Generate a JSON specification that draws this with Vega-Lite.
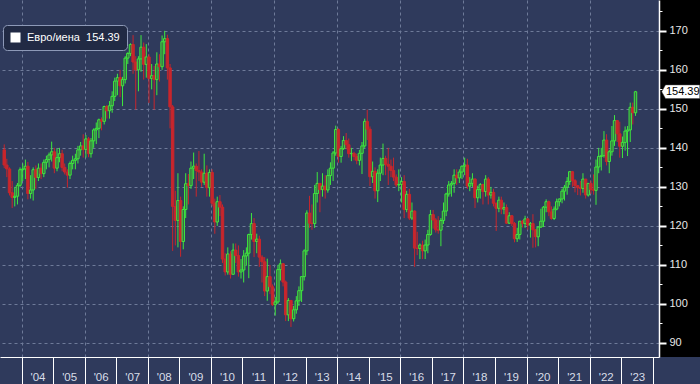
{
"$schema": "https://vega.github.io/schema/vega-lite/v6.json",
"padding": 0,
"background": "#2f3a5c",
"spacing": 0,
"bounds": "flush",
"config": {"view": {"stroke": null}, "font": "Liberation Sans"},
"data": {"values": [
{"d":"2003-06-15","o":139.5,"h":140.9,"l":134.8,"c":135.6},
{"d":"2003-07-15","o":135.6,"h":137.2,"l":132.5,"c":134.6},
{"d":"2003-08-15","o":134.6,"h":135.0,"l":127.8,"c":128.5},
{"d":"2003-09-15","o":128.5,"h":131.5,"l":124.6,"c":127.3},
{"d":"2003-10-15","o":127.3,"h":130.0,"l":125.0,"c":127.6},
{"d":"2003-11-15","o":127.6,"h":131.0,"l":125.5,"c":130.4},
{"d":"2003-12-15","o":130.4,"h":135.0,"l":130.0,"c":134.4},
{"d":"2004-01-15","o":134.4,"h":136.0,"l":131.5,"c":134.6},
{"d":"2004-02-15","o":134.6,"h":137.0,"l":132.0,"c":135.3},
{"d":"2004-03-15","o":135.3,"h":136.4,"l":126.8,"c":128.3},
{"d":"2004-04-15","o":128.3,"h":133.0,"l":127.0,"c":129.2},
{"d":"2004-05-15","o":129.2,"h":135.0,"l":126.5,"c":134.4},
{"d":"2004-06-15","o":134.4,"h":135.5,"l":129.5,"c":132.4},
{"d":"2004-07-15","o":132.4,"h":136.0,"l":131.5,"c":134.8},
{"d":"2004-08-15","o":134.8,"h":136.0,"l":132.0,"c":133.4},
{"d":"2004-09-15","o":133.4,"h":137.0,"l":132.5,"c":136.3},
{"d":"2004-10-15","o":136.3,"h":138.0,"l":134.5,"c":137.0},
{"d":"2004-11-15","o":137.0,"h":138.8,"l":135.0,"c":138.2},
{"d":"2004-12-15","o":138.2,"h":141.6,"l":136.5,"c":139.0},
{"d":"2005-01-15","o":139.0,"h":140.0,"l":133.5,"c":134.8},
{"d":"2005-02-15","o":134.8,"h":139.8,"l":134.0,"c":137.5},
{"d":"2005-03-15","o":137.5,"h":140.0,"l":136.3,"c":138.5},
{"d":"2005-04-15","o":138.5,"h":139.5,"l":134.0,"c":135.0},
{"d":"2005-05-15","o":135.0,"h":136.0,"l":133.2,"c":133.8},
{"d":"2005-06-15","o":133.8,"h":134.5,"l":129.8,"c":133.0},
{"d":"2005-07-15","o":133.0,"h":136.5,"l":132.0,"c":136.0},
{"d":"2005-08-15","o":136.0,"h":138.0,"l":134.5,"c":136.8},
{"d":"2005-09-15","o":136.8,"h":138.5,"l":134.5,"c":137.2},
{"d":"2005-10-15","o":137.2,"h":140.5,"l":136.0,"c":139.5},
{"d":"2005-11-15","o":139.5,"h":141.5,"l":138.0,"c":140.5},
{"d":"2005-12-15","o":140.5,"h":143.5,"l":137.5,"c":139.6},
{"d":"2006-01-15","o":139.6,"h":143.3,"l":137.5,"c":142.3},
{"d":"2006-02-15","o":142.3,"h":142.8,"l":137.6,"c":138.5},
{"d":"2006-03-15","o":138.5,"h":142.5,"l":137.5,"c":141.8},
{"d":"2006-04-15","o":141.8,"h":145.0,"l":140.0,"c":144.6},
{"d":"2006-05-15","o":144.6,"h":146.5,"l":141.0,"c":145.0},
{"d":"2006-06-15","o":145.0,"h":147.5,"l":142.5,"c":147.2},
{"d":"2006-07-15","o":147.2,"h":147.8,"l":144.5,"c":146.8},
{"d":"2006-08-15","o":146.8,"h":150.8,"l":146.0,"c":150.6},
{"d":"2006-09-15","o":150.6,"h":151.0,"l":147.5,"c":149.5},
{"d":"2006-10-15","o":149.5,"h":152.0,"l":147.5,"c":150.8},
{"d":"2006-11-15","o":150.8,"h":154.5,"l":149.0,"c":153.2},
{"d":"2006-12-15","o":153.2,"h":158.0,"l":152.0,"c":157.1},
{"d":"2007-01-15","o":157.1,"h":159.0,"l":153.5,"c":158.0},
{"d":"2007-02-15","o":158.0,"h":160.0,"l":153.0,"c":155.9},
{"d":"2007-03-15","o":155.9,"h":158.2,"l":150.7,"c":157.5},
{"d":"2007-04-15","o":157.5,"h":163.5,"l":156.5,"c":163.0},
{"d":"2007-05-15","o":163.0,"h":164.5,"l":161.5,"c":164.2},
{"d":"2007-06-15","o":164.2,"h":166.8,"l":163.5,"c":166.5},
{"d":"2007-07-15","o":166.5,"h":168.9,"l":159.0,"c":162.0},
{"d":"2007-08-15","o":162.0,"h":163.5,"l":149.8,"c":160.0},
{"d":"2007-09-15","o":160.0,"h":163.5,"l":154.5,"c":162.8},
{"d":"2007-10-15","o":162.8,"h":168.9,"l":159.5,"c":165.8},
{"d":"2007-11-15","o":165.8,"h":167.0,"l":157.5,"c":161.4},
{"d":"2007-12-15","o":161.4,"h":166.6,"l":158.0,"c":163.3},
{"d":"2008-01-15","o":163.3,"h":164.0,"l":151.5,"c":157.8},
{"d":"2008-02-15","o":157.8,"h":161.5,"l":155.0,"c":158.5},
{"d":"2008-03-15","o":158.5,"h":161.0,"l":149.8,"c":157.5},
{"d":"2008-04-15","o":157.5,"h":164.5,"l":153.5,"c":161.5},
{"d":"2008-05-15","o":161.5,"h":164.0,"l":157.0,"c":160.8},
{"d":"2008-06-15","o":160.8,"h":168.8,"l":160.0,"c":167.2},
{"d":"2008-07-15","o":167.2,"h":170.0,"l":164.0,"c":168.0},
{"d":"2008-08-15","o":168.0,"h":169.0,"l":157.5,"c":160.5},
{"d":"2008-09-15","o":160.5,"h":161.5,"l":145.0,"c":150.5},
{"d":"2008-10-15","o":150.5,"h":151.0,"l":113.6,"c":125.0},
{"d":"2008-11-15","o":125.0,"h":129.0,"l":115.0,"c":121.4},
{"d":"2008-12-15","o":121.4,"h":133.5,"l":114.5,"c":126.5},
{"d":"2009-01-15","o":126.5,"h":127.5,"l":112.1,"c":116.0},
{"d":"2009-02-15","o":116.0,"h":125.0,"l":114.0,"c":124.2},
{"d":"2009-03-15","o":124.2,"h":133.5,"l":122.0,"c":130.8},
{"d":"2009-04-15","o":130.8,"h":133.3,"l":125.5,"c":130.3},
{"d":"2009-05-15","o":130.3,"h":136.5,"l":129.5,"c":134.8},
{"d":"2009-06-15","o":134.8,"h":138.8,"l":132.0,"c":135.3},
{"d":"2009-07-15","o":135.3,"h":136.0,"l":127.5,"c":134.2},
{"d":"2009-08-15","o":134.2,"h":139.2,"l":131.5,"c":133.8},
{"d":"2009-09-15","o":133.8,"h":134.5,"l":130.0,"c":131.2},
{"d":"2009-10-15","o":131.2,"h":138.5,"l":130.5,"c":133.5},
{"d":"2009-11-15","o":133.5,"h":135.5,"l":127.5,"c":129.8},
{"d":"2009-12-15","o":129.8,"h":134.5,"l":127.5,"c":133.7},
{"d":"2010-01-15","o":133.7,"h":134.5,"l":125.0,"c":125.8},
{"d":"2010-02-15","o":125.8,"h":127.0,"l":118.0,"c":121.0},
{"d":"2010-03-15","o":121.0,"h":127.5,"l":120.0,"c":126.2},
{"d":"2010-04-15","o":126.2,"h":127.9,"l":122.5,"c":124.8},
{"d":"2010-05-15","o":124.8,"h":125.5,"l":110.5,"c":111.5},
{"d":"2010-06-15","o":111.5,"h":113.0,"l":107.3,"c":108.2},
{"d":"2010-07-15","o":108.2,"h":114.5,"l":107.5,"c":112.8},
{"d":"2010-08-15","o":112.8,"h":113.5,"l":106.5,"c":107.6},
{"d":"2010-09-15","o":107.6,"h":115.5,"l":107.5,"c":113.8},
{"d":"2010-10-15","o":113.8,"h":115.5,"l":110.5,"c":112.4},
{"d":"2010-11-15","o":112.4,"h":115.0,"l":107.0,"c":108.2},
{"d":"2010-12-15","o":108.2,"h":111.5,"l":106.5,"c":108.7},
{"d":"2011-01-15","o":108.7,"h":113.8,"l":105.5,"c":112.3},
{"d":"2011-02-15","o":112.3,"h":114.5,"l":109.8,"c":113.0},
{"d":"2011-03-15","o":113.0,"h":118.0,"l":106.6,"c":117.8},
{"d":"2011-04-15","o":117.8,"h":123.3,"l":116.5,"c":120.6},
{"d":"2011-05-15","o":120.6,"h":122.0,"l":112.0,"c":116.0},
{"d":"2011-06-15","o":116.0,"h":118.0,"l":113.0,"c":116.6},
{"d":"2011-07-15","o":116.6,"h":117.5,"l":109.5,"c":112.0},
{"d":"2011-08-15","o":112.0,"h":112.5,"l":105.5,"c":110.8},
{"d":"2011-09-15","o":110.8,"h":112.0,"l":102.0,"c":103.3},
{"d":"2011-10-15","o":103.3,"h":111.6,"l":100.8,"c":107.0},
{"d":"2011-11-15","o":107.0,"h":110.0,"l":102.5,"c":104.4},
{"d":"2011-12-15","o":104.4,"h":105.0,"l":99.5,"c":99.8},
{"d":"2012-01-15","o":99.8,"h":101.8,"l":97.0,"c":100.5},
{"d":"2012-02-15","o":100.5,"h":110.0,"l":100.0,"c":108.8},
{"d":"2012-03-15","o":108.8,"h":111.4,"l":106.0,"c":110.3},
{"d":"2012-04-15","o":110.3,"h":110.5,"l":104.5,"c":105.6},
{"d":"2012-05-15","o":105.6,"h":106.0,"l":95.6,"c":97.2},
{"d":"2012-06-15","o":97.2,"h":101.5,"l":95.6,"c":100.9},
{"d":"2012-07-15","o":100.9,"h":101.0,"l":94.1,"c":96.2},
{"d":"2012-08-15","o":96.2,"h":99.5,"l":95.5,"c":98.5},
{"d":"2012-09-15","o":98.5,"h":102.0,"l":97.5,"c":100.8},
{"d":"2012-10-15","o":100.8,"h":104.5,"l":99.5,"c":103.4},
{"d":"2012-11-15","o":103.4,"h":107.0,"l":100.5,"c":107.0},
{"d":"2012-12-15","o":107.0,"h":114.0,"l":106.0,"c":113.6},
{"d":"2013-01-15","o":113.6,"h":124.0,"l":112.5,"c":123.3},
{"d":"2013-02-15","o":123.3,"h":127.7,"l":119.5,"c":120.7},
{"d":"2013-03-15","o":120.7,"h":125.5,"l":119.0,"c":120.6},
{"d":"2013-04-15","o":120.6,"h":130.5,"l":119.5,"c":128.3},
{"d":"2013-05-15","o":128.3,"h":133.8,"l":126.0,"c":130.9},
{"d":"2013-06-15","o":130.9,"h":131.0,"l":123.5,"c":129.3},
{"d":"2013-07-15","o":129.3,"h":133.5,"l":127.5,"c":130.2},
{"d":"2013-08-15","o":130.2,"h":133.0,"l":127.0,"c":129.2},
{"d":"2013-09-15","o":129.2,"h":134.5,"l":128.5,"c":132.9},
{"d":"2013-10-15","o":132.9,"h":136.3,"l":130.5,"c":134.8},
{"d":"2013-11-15","o":134.8,"h":139.2,"l":131.5,"c":138.7},
{"d":"2013-12-15","o":138.7,"h":145.7,"l":138.0,"c":144.7},
{"d":"2014-01-15","o":144.7,"h":145.0,"l":136.2,"c":137.8},
{"d":"2014-02-15","o":137.8,"h":140.5,"l":136.2,"c":139.8},
{"d":"2014-03-15","o":139.8,"h":143.0,"l":139.5,"c":141.9},
{"d":"2014-04-15","o":141.9,"h":143.8,"l":139.6,"c":140.8},
{"d":"2014-05-15","o":140.8,"h":142.4,"l":137.5,"c":138.5},
{"d":"2014-06-15","o":138.5,"h":140.0,"l":136.6,"c":138.6},
{"d":"2014-07-15","o":138.6,"h":139.0,"l":136.8,"c":137.8},
{"d":"2014-08-15","o":137.8,"h":138.5,"l":135.8,"c":136.8},
{"d":"2014-09-15","o":136.8,"h":139.5,"l":135.5,"c":138.6},
{"d":"2014-10-15","o":138.6,"h":141.5,"l":133.3,"c":140.5},
{"d":"2014-11-15","o":140.5,"h":147.5,"l":140.0,"c":146.8},
{"d":"2014-12-15","o":146.8,"h":149.8,"l":142.0,"c":144.8},
{"d":"2015-01-15","o":144.8,"h":145.5,"l":130.2,"c":132.6},
{"d":"2015-02-15","o":132.6,"h":136.5,"l":131.0,"c":134.0},
{"d":"2015-03-15","o":134.0,"h":135.0,"l":127.0,"c":129.0},
{"d":"2015-04-15","o":129.0,"h":134.5,"l":126.1,"c":133.5},
{"d":"2015-05-15","o":133.5,"h":137.5,"l":131.5,"c":135.6},
{"d":"2015-06-15","o":135.6,"h":141.1,"l":133.0,"c":137.3},
{"d":"2015-07-15","o":137.3,"h":138.0,"l":133.0,"c":135.8},
{"d":"2015-08-15","o":135.8,"h":140.0,"l":130.5,"c":135.3},
{"d":"2015-09-15","o":135.3,"h":137.0,"l":132.5,"c":134.2},
{"d":"2015-10-15","o":134.2,"h":137.5,"l":131.5,"c":132.5},
{"d":"2015-11-15","o":132.5,"h":133.2,"l":130.0,"c":130.5},
{"d":"2015-12-15","o":130.5,"h":134.5,"l":128.9,"c":130.6},
{"d":"2016-01-15","o":130.6,"h":132.5,"l":126.0,"c":131.4},
{"d":"2016-02-15","o":131.4,"h":133.0,"l":122.0,"c":124.2},
{"d":"2016-03-15","o":124.2,"h":129.0,"l":123.5,"c":128.1},
{"d":"2016-04-15","o":128.1,"h":129.5,"l":121.5,"c":122.0},
{"d":"2016-05-15","o":122.0,"h":126.0,"l":121.5,"c":123.8},
{"d":"2016-06-15","o":123.8,"h":124.0,"l":109.5,"c":114.3},
{"d":"2016-07-15","o":114.3,"h":118.5,"l":112.5,"c":114.2},
{"d":"2016-08-15","o":114.2,"h":115.5,"l":111.5,"c":115.1},
{"d":"2016-09-15","o":115.1,"h":116.2,"l":111.5,"c":113.6},
{"d":"2016-10-15","o":113.6,"h":116.5,"l":111.5,"c":115.1},
{"d":"2016-11-15","o":115.1,"h":119.0,"l":113.0,"c":117.8},
{"d":"2016-12-15","o":117.8,"h":124.1,"l":117.5,"c":122.9},
{"d":"2017-01-15","o":122.9,"h":124.1,"l":119.3,"c":121.5},
{"d":"2017-02-15","o":121.5,"h":122.0,"l":118.3,"c":119.0},
{"d":"2017-03-15","o":119.0,"h":122.5,"l":118.0,"c":118.9},
{"d":"2017-04-15","o":118.9,"h":122.0,"l":114.8,"c":121.4},
{"d":"2017-05-15","o":121.4,"h":126.0,"l":120.5,"c":123.8},
{"d":"2017-06-15","o":123.8,"h":128.5,"l":122.5,"c":128.2},
{"d":"2017-07-15","o":128.2,"h":131.5,"l":127.5,"c":130.5},
{"d":"2017-08-15","o":130.5,"h":131.5,"l":127.5,"c":130.9},
{"d":"2017-09-15","o":130.9,"h":134.5,"l":128.5,"c":133.0},
{"d":"2017-10-15","o":133.0,"h":134.5,"l":130.5,"c":132.3},
{"d":"2017-11-15","o":132.3,"h":134.5,"l":131.0,"c":133.8},
{"d":"2017-12-15","o":133.8,"h":135.5,"l":132.0,"c":135.3},
{"d":"2018-01-15","o":135.3,"h":137.5,"l":133.0,"c":135.6},
{"d":"2018-02-15","o":135.6,"h":137.2,"l":129.5,"c":130.2},
{"d":"2018-03-15","o":130.2,"h":132.5,"l":128.9,"c":130.9},
{"d":"2018-04-15","o":130.9,"h":133.5,"l":130.0,"c":132.0},
{"d":"2018-05-15","o":132.0,"h":132.2,"l":124.6,"c":127.2},
{"d":"2018-06-15","o":127.2,"h":130.3,"l":126.0,"c":129.3},
{"d":"2018-07-15","o":129.3,"h":131.0,"l":127.0,"c":130.6},
{"d":"2018-08-15","o":130.6,"h":130.8,"l":125.5,"c":128.8},
{"d":"2018-09-15","o":128.8,"h":133.0,"l":127.5,"c":132.0},
{"d":"2018-10-15","o":132.0,"h":132.5,"l":125.5,"c":127.9},
{"d":"2018-11-15","o":127.9,"h":130.0,"l":127.0,"c":128.6},
{"d":"2018-12-15","o":128.6,"h":129.5,"l":125.0,"c":125.8},
{"d":"2019-01-15","o":125.8,"h":126.0,"l":118.7,"c":124.5},
{"d":"2019-02-15","o":124.5,"h":127.5,"l":123.5,"c":126.6},
{"d":"2019-03-15","o":126.6,"h":127.5,"l":123.0,"c":124.3},
{"d":"2019-04-15","o":124.3,"h":126.0,"l":123.0,"c":124.7},
{"d":"2019-05-15","o":124.7,"h":125.5,"l":120.5,"c":120.7},
{"d":"2019-06-15","o":120.7,"h":123.5,"l":120.5,"c":122.6},
{"d":"2019-07-15","o":122.6,"h":122.8,"l":120.0,"c":120.6},
{"d":"2019-08-15","o":120.6,"h":121.0,"l":115.8,"c":116.7},
{"d":"2019-09-15","o":116.7,"h":119.5,"l":115.9,"c":117.8},
{"d":"2019-10-15","o":117.8,"h":121.3,"l":116.5,"c":121.2},
{"d":"2019-11-15","o":121.2,"h":121.5,"l":119.6,"c":120.6},
{"d":"2019-12-15","o":120.6,"h":122.6,"l":119.5,"c":121.8},
{"d":"2020-01-15","o":121.8,"h":122.0,"l":119.0,"c":120.2},
{"d":"2020-02-15","o":120.2,"h":121.0,"l":117.0,"c":120.6},
{"d":"2020-03-15","o":120.6,"h":123.0,"l":114.4,"c":119.0},
{"d":"2020-04-15","o":119.0,"h":119.2,"l":114.5,"c":117.2},
{"d":"2020-05-15","o":117.2,"h":119.8,"l":114.8,"c":119.7},
{"d":"2020-06-15","o":119.7,"h":124.4,"l":119.5,"c":121.2},
{"d":"2020-07-15","o":121.2,"h":125.1,"l":119.7,"c":124.8},
{"d":"2020-08-15","o":124.8,"h":126.8,"l":123.5,"c":126.2},
{"d":"2020-09-15","o":126.2,"h":126.5,"l":122.5,"c":123.6},
{"d":"2020-10-15","o":123.6,"h":125.0,"l":121.6,"c":121.9},
{"d":"2020-11-15","o":121.9,"h":125.0,"l":121.5,"c":124.3},
{"d":"2020-12-15","o":124.3,"h":127.0,"l":124.0,"c":126.2},
{"d":"2021-01-15","o":126.2,"h":127.0,"l":125.0,"c":126.9},
{"d":"2021-02-15","o":126.9,"h":129.5,"l":125.8,"c":128.9},
{"d":"2021-03-15","o":128.9,"h":130.5,"l":126.5,"c":129.9},
{"d":"2021-04-15","o":129.9,"h":132.5,"l":128.0,"c":131.4},
{"d":"2021-05-15","o":131.4,"h":134.0,"l":130.5,"c":133.9},
{"d":"2021-06-15","o":133.9,"h":134.1,"l":130.0,"c":131.6},
{"d":"2021-07-15","o":131.6,"h":132.0,"l":128.6,"c":130.3},
{"d":"2021-08-15","o":130.3,"h":130.5,"l":127.9,"c":129.8},
{"d":"2021-09-15","o":129.8,"h":131.5,"l":127.8,"c":129.6},
{"d":"2021-10-15","o":129.6,"h":133.5,"l":128.5,"c":132.0},
{"d":"2021-11-15","o":132.0,"h":132.0,"l":127.0,"c":127.9},
{"d":"2021-12-15","o":127.9,"h":131.0,"l":127.5,"c":130.9},
{"d":"2022-01-15","o":130.9,"h":131.6,"l":128.2,"c":129.3},
{"d":"2022-02-15","o":129.3,"h":133.2,"l":128.0,"c":129.1},
{"d":"2022-03-15","o":129.1,"h":137.0,"l":125.4,"c":135.1},
{"d":"2022-04-15","o":135.1,"h":140.0,"l":133.5,"c":137.8},
{"d":"2022-05-15","o":137.8,"h":140.0,"l":134.2,"c":138.0},
{"d":"2022-06-15","o":138.0,"h":144.3,"l":137.5,"c":142.0},
{"d":"2022-07-15","o":142.0,"h":143.5,"l":135.5,"c":136.5},
{"d":"2022-08-15","o":136.5,"h":139.5,"l":133.5,"c":139.0},
{"d":"2022-09-15","o":139.0,"h":145.6,"l":138.0,"c":141.8},
{"d":"2022-10-15","o":141.8,"h":148.4,"l":140.5,"c":147.0},
{"d":"2022-11-15","o":147.0,"h":147.0,"l":141.5,"c":143.6},
{"d":"2022-12-15","o":143.6,"h":146.7,"l":137.5,"c":140.4},
{"d":"2023-01-15","o":140.4,"h":142.9,"l":137.4,"c":141.4},
{"d":"2023-02-15","o":141.4,"h":145.5,"l":139.3,"c":144.3},
{"d":"2023-03-15","o":144.3,"h":145.6,"l":137.9,"c":144.6},
{"d":"2023-04-15","o":144.6,"h":151.6,"l":141.5,"c":150.4},
{"d":"2023-05-15","o":150.4,"h":151.6,"l":146.0,"c":149.0},
{"d":"2023-06-15","o":149.0,"h":154.6,"l":148.2,"c":154.39}
]},
"hconcat": [
{
"width": 659,
"height": 357,
"view": {"fill": "#2f3a5c", "stroke": null},
"layer": [
{
"mark": {"type": "rule", "strokeWidth": 1, "clip": true},
"encoding": {
"x": {"field": "d", "type": "temporal",
"scale": {"domain": ["2003-06-24", "2024-01-15"]},
"axis": {"orient": "bottom", "title": null, "grid": false,
"values": [{"year":2004,"month":1,"date":1},{"year":2005,"month":1,"date":1},{"year":2006,"month":1,"date":1},{"year":2007,"month":1,"date":1},{"year":2008,"month":1,"date":1},{"year":2009,"month":1,"date":1},{"year":2010,"month":1,"date":1},{"year":2011,"month":1,"date":1},{"year":2012,"month":1,"date":1},{"year":2013,"month":1,"date":1},{"year":2014,"month":1,"date":1},{"year":2015,"month":1,"date":1},{"year":2016,"month":1,"date":1},{"year":2017,"month":1,"date":1},{"year":2018,"month":1,"date":1},{"year":2019,"month":1,"date":1},{"year":2020,"month":1,"date":1},{"year":2021,"month":1,"date":1},{"year":2022,"month":1,"date":1},{"year":2023,"month":1,"date":1},{"year":2024,"month":1,"date":1}],
"format": "'%y",
"labelExpr": "year(datum.value) >= 2024 ? '' : datum.label",
"labelOffset": 16, "labelAlign": "center", "labelBaseline": "alphabetic",
"labelPadding": -3.5, "labelFlush": false, "labelOverlap": false, "labelBound": false,
"labelColor": "#d8dde8", "labelFontSize": 11.5, "labelFont": "Liberation Sans",
"tickSize": 27, "tickColor": "#ffffff", "tickWidth": 1,
"domainColor": "#ffffff", "domainWidth": 1.2}},
"y": {"field": "l", "type": "quantitative",
"scale": {"domain": [86.4, 177.9], "zero": false, "nice": false},
"axis": {"orient": "right", "title": null, "values": [90,100,110,120,130,140,150,160,170],
"grid": true, "gridColor": "#6e7a99", "gridDash": [3,3], "gridWidth": 1,
"labels": false, "ticks": false, "domain": false}},
"y2": {"field": "h"},
"stroke": {"condition": {"test": "datum.c >= datum.o", "value": "#3ee83e"}, "value": "#c8262c"}
}
},
{
"mark": {"type": "bar", "size": 2.4, "strokeWidth": 1, "clip": true},
"encoding": {
"x": {"field": "d", "type": "temporal",
"axis": {"orient": "top", "title": null, "labels": false, "ticks": false, "domain": false,
"grid": true, "gridColor": "#6e7a99", "gridDash": [3,3], "gridWidth": 1,
"values": [{"year":2004,"month":1,"date":1},{"year":2006,"month":1,"date":1},{"year":2008,"month":1,"date":1},{"year":2010,"month":1,"date":1},{"year":2012,"month":1,"date":1},{"year":2014,"month":1,"date":1},{"year":2016,"month":1,"date":1},{"year":2018,"month":1,"date":1},{"year":2020,"month":1,"date":1},{"year":2022,"month":1,"date":1}]}},
"y": {"field": "o", "type": "quantitative"},
"y2": {"field": "c"},
"fill": {"condition": {"test": "datum.c >= datum.o", "value": "#3a6a45"}, "value": "#c8262c"},
"stroke": {"condition": {"test": "datum.c >= datum.o", "value": "#3ee83e"}, "value": "#c8262c"}
}
},
{
"transform": [{"filter": "datum.c == 154.39"}],
"mark": {"type": "point", "opacity": 0, "filled": true},
"encoding": {
"x": {"field": "d", "type": "temporal", "axis": null},
"y": {"field": "c", "type": "quantitative"},
"color": {"datum": "Евро/иена\u00a0\u00a0154.39", "scale": {"range": ["#ffffff"]},
"legend": {"orient": "none", "legendX": 3, "legendY": 25, "title": null,
"symbolType": "square", "symbolSize": 100, "symbolFillColor": "#ffffff", "symbolStrokeWidth": 0, "symbolOpacity": 1,
"fillColor": "#212a44", "strokeColor": "#8d99b7", "cornerRadius": 4, "padding": 7,
"labelColor": "#ffffff", "labelFontSize": 11, "labelFont": "Liberation Sans", "labelOffset": 6}}
}
}
],
"resolve": {"axis": {"x": "independent"}}
},
{
"width": 41,
"height": 357,
"view": {"fill": "#000000", "stroke": null},
"transform": [{"filter": "datum.c == 154.39"}],
"layer": [
{
"mark": {"type": "point", "shape": "M-1,0L-0.8,-0.36L1,-0.36L1,0.36L-0.8,0.36Z", "size": 1444, "filled": true, "fill": "#ffffff", "stroke": "#444444", "strokeWidth": 0.5, "opacity": 1},
"encoding": {
"x": {"datum": 0.53, "type": "quantitative", "scale": {"domain": [0, 1]}, "axis": null},
"y": {"field": "c", "type": "quantitative",
"scale": {"domain": [86.4, 177.9], "zero": false, "nice": false},
"axis": {"orient": "right", "offset": -41, "title": null, "grid": false,
"values": [90,100,110,120,130,140,150,160,170],
"tickSize": 7, "tickWidth": 2, "tickColor": "#ffffff",
"domainColor": "#ffffff", "domainWidth": 1.5,
"labelColor": "#e8e8e8", "labelFontSize": 11, "labelFont": "Liberation Sans", "labelPadding": 3}}
}
},
{
"mark": {"type": "text", "fontSize": 11, "font": "Liberation Sans", "color": "#000000", "dx": 2},
"encoding": {
"x": {"datum": 0.53, "type": "quantitative"},
"text": {"field": "c", "type": "quantitative", "format": ".2f"},
"y": {"field": "c", "type": "quantitative",
"axis": {"orient": "right", "offset": -41, "title": null, "grid": false, "labels": false, "domain": false,
"values": [95,105,115,125,135,145,155,165,175],
"tickSize": 3, "tickWidth": 1, "tickColor": "#ffffff"}}
}
}
],
"resolve": {"axis": {"y": "independent"}}
}
]
}
